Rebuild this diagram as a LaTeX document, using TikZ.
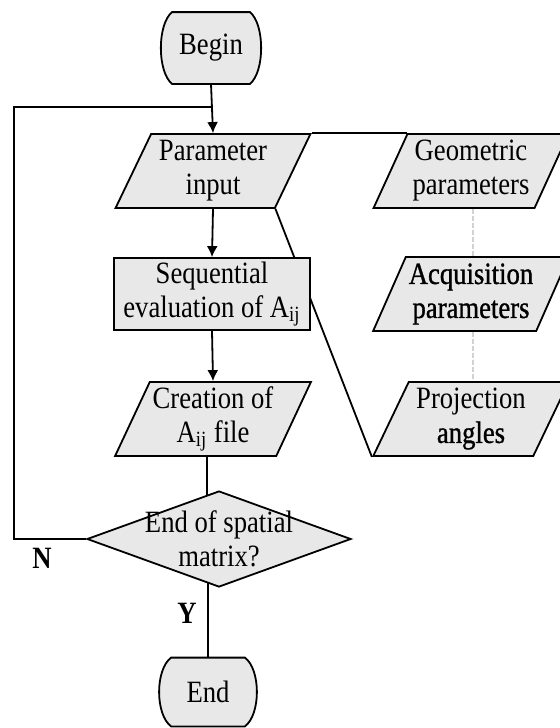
\documentclass[tikz,border=0pt]{standalone}
\usepackage{fontspec}
\setmainfont[FakeStretch=0.86]{Liberation Serif}
\newfontfamily\semibold[FakeStretch=0.86, FakeBold=1]{Liberation Serif}
\usetikzlibrary{shapes.geometric,arrows.meta,backgrounds}

\begin{document}
\begin{tikzpicture}[x=0.5pt, y=-0.5pt, >={Latex[length=5.5pt,width=5.5pt]},
	font=\fontsize{15.5}{17}\selectfont,
	linea/.style={line width=0.9pt},
	caja/.style={linea, draw, fill=black!9, align=center, inner sep=0pt},
	datos/.style={caja, trapezium, trapezium left angle=63, trapezium right angle=117,
		trapezium stretches=true, minimum width=98pt, minimum height=37pt},
	proceso/.style={caja, rectangle, minimum width=98pt, minimum height=36pt},
	decision/.style={caja, diamond, aspect=2.75, inner sep=-20pt, minimum width=132pt, minimum height=48pt},
	terminal/.style={align=center, inner sep=0pt},
	auxiliar/.style={line width=0.4pt, gray, dash pattern=on 2.5pt off 1pt}]

	\useasboundingbox (0,0) rectangle (560,728);

	% Inicio y fin (terminales)
	\node[terminal, minimum width=38.5pt, minimum height=35.5pt] (begin) at (211,48) {Begin};
	\node[terminal, minimum width=36.5pt, minimum height=34pt] (end) at (208,692) {End};

	% Columna principal
	\node[datos] (input) at (213,171) {Parameter\\input};
	\node[proceso] (seq) at (212,294) {Sequential\\evaluation of A\textsubscript{ij}};
	\node[datos] (creation) at (213,419) {Creation of\\A\textsubscript{ij} file};
	\node[decision] (decide) at (219,539) {End of spatial\\matrix?};

	% Columna de parametros
	\node[datos] (geo) at (471,171) {Geometric\\parameters};
	\node[datos, font=\fontsize{15.5}{17}\selectfont\semibold] (acq) at (471,294) {Acquisition\\parameters};
	\node[datos] (proj) at (471,419) {Projection\\{\semibold angles}};

	% Etiquetas de la decision
	\node[font=\fontsize{15.5}{17}\selectfont\bfseries] (no) at (42,558) {N};
	\node[font=\fontsize{15.5}{17}\selectfont\bfseries] (yes) at (187,613) {Y};

	% Puntos del lazo de retorno
	\coordinate (esquina) at (14,107);
	\coordinate (retorno) at (212,107);

	% Flechas del flujo
	\draw[linea, ->] (begin.south) -- (input.north);
	\draw[linea, ->] (input.south) -- (seq.north);
	\draw[linea, ->] (seq.south) -- (creation.north);
	\draw[linea] (decide.west) -| (esquina) -- (retorno);
	\draw[linea] (input.top right corner) -- (geo.top left corner);

	% Lineas punteadas entre parametros
	\draw[auxiliar] ([xshift=1pt]geo.south) -- ([xshift=1pt]acq.north);
	\draw[auxiliar] ([xshift=1pt]acq.south) -- ([xshift=1pt]proj.north);

	\begin{scope}[on background layer]
		% Lineas que pasan por detras de las cajas
		\draw[linea] (input.bottom right corner) -- (proj.bottom left corner);
		\draw[linea] ([xshift=-3pt]creation.south) -- ([xshift=-3pt]creation.south |- decide.center);
		\draw[linea] (decide.center -| end.north) -- (end.north);

		% Contorno de los terminales
		\draw[linea, fill=black!9] (begin.north west) .. controls +(-15,12) and +(-15,-12) .. (begin.south west)
			-- (begin.south east) .. controls +(15,-12) and +(15,12) .. (begin.north east) -- cycle;
		\draw[linea, fill=black!9] (end.north west) .. controls +(-16,12) and +(-16,-12) .. (end.south west)
			-- (end.south east) .. controls +(16,-12) and +(16,12) .. (end.north east) -- cycle;
	\end{scope}

\end{tikzpicture}
\end{document}
